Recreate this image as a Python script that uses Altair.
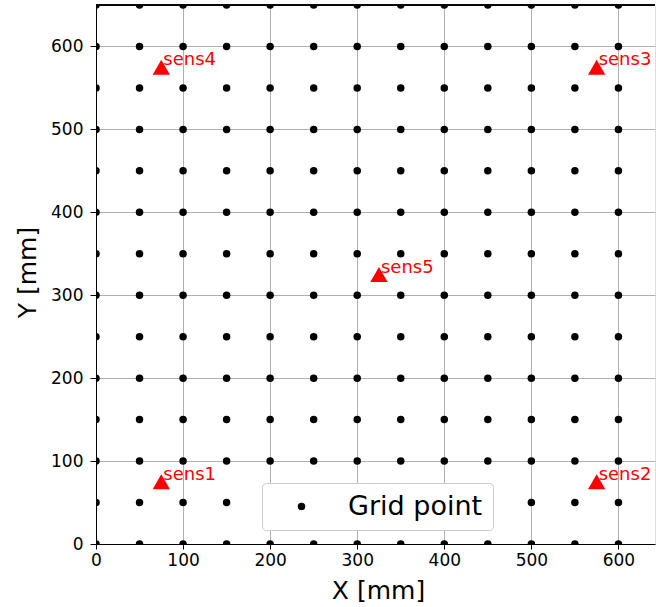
import altair as alt
import pandas as pd

# Grid coordinates (mm)
grid_x = [0, 50, 100, 150, 200, 250, 300, 350, 400, 450, 500, 550, 600, 650]
grid_y = [0, 50, 100, 150, 200, 250, 300, 350, 400, 450, 500, 550, 600, 650]

# Sensors
sensor_names = ["sens1", "sens2", "sens3", "sens4", "sens5"]
sensor_x = [75, 575, 575, 75, 325]
sensor_y = [75, 75, 575, 575, 325]

grid_df = pd.DataFrame(
    [{"x": gx, "y": gy, "kind": "Grid point"} for gy in grid_y for gx in grid_x]
)
sens_df = pd.DataFrame({"name": sensor_names, "x": sensor_x, "y": sensor_y})

W, H = 559, 539
FONT = "DejaVu Sans"

xscale = alt.Scale(domain=[0, 642], nice=False, zero=False)
yscale = alt.Scale(domain=[0, 650], nice=False, zero=False)
ticks = [0, 100, 200, 300, 400, 500, 600]

xaxis = alt.Axis(
    values=ticks, title="X [mm]", grid=True, gridColor="#b0b0b0", gridWidth=1,
    domainColor="black", tickColor="black", tickSize=5, labelPadding=3,
    labelFontSize=17, labelColor="black", labelFont=FONT,
    titleFontSize=25, titleFont=FONT, titleFontWeight="normal", titleColor="black",
    titleX=282, titleY=54, titleBaseline="alphabetic", titleAnchor="middle",
    titleAlign="center", labelFlush=False,
)
yaxis = alt.Axis(
    values=ticks, title="Y [mm]", grid=True, gridColor="#b0b0b0", gridWidth=1,
    domainColor="black", tickColor="black", tickSize=6, labelPadding=7,
    labelFontSize=17, labelColor="black", labelFont=FONT,
    titleFontSize=25, titleFont=FONT, titleFontWeight="normal", titleColor="black",
    titleX=-61, titleY=267, titleAngle=270, titleBaseline="alphabetic",
    titleAlign="center", labelFlush=False,
)

points = alt.Chart(grid_df).mark_circle(size=56, opacity=1, clip=True).encode(
    x=alt.X("x:Q", scale=xscale, axis=xaxis),
    y=alt.Y("y:Q", scale=yscale, axis=yaxis),
    color=alt.Color(
        "kind:N",
        scale=alt.Scale(domain=["Grid point"], range=["black"]),
        legend=alt.Legend(
            title=None, orient="none", legendX=166, legendY=478,
            fillColor="white", strokeColor="#cccccc", cornerRadius=4,
            padding=10, symbolType="circle", symbolSize=56, symbolOffset=16,
            labelOffset=33, labelFontSize=27, labelFont=FONT, labelColor="black",
            symbolStrokeWidth=0, labelLimit=400,
        ),
    ),
)

tri = alt.Chart(sens_df).mark_point(
    shape="triangle-up", size=300, filled=True, color="red", opacity=1, clip=True
).encode(x=alt.X("x:Q", scale=xscale), y=alt.Y("y:Q", scale=yscale))

labels = alt.Chart(sens_df).mark_text(
    align="left", baseline="alphabetic", dx=2, dy=-2, color="red",
    fontSize=18, font=FONT,
).encode(x=alt.X("x:Q", scale=xscale), y=alt.Y("y:Q", scale=yscale), text="name:N")

top_border = alt.Chart(sens_df).mark_rule(color="black", strokeWidth=1).encode(
    x=alt.value(0), x2=alt.value(W), y=alt.value(0)
)

chart = (
    alt.layer(points, tri, labels, top_border)
    .properties(
        width=W, height=H,
        autosize=alt.AutoSizeParams(type="none"),
        padding={"left": 96, "top": 5, "right": 1, "bottom": 63},
    )
    .configure_view(stroke=None)
    .configure(background="white")
)

chart.save("out.html", embed_options={"renderer": "svg", "actions": False})
